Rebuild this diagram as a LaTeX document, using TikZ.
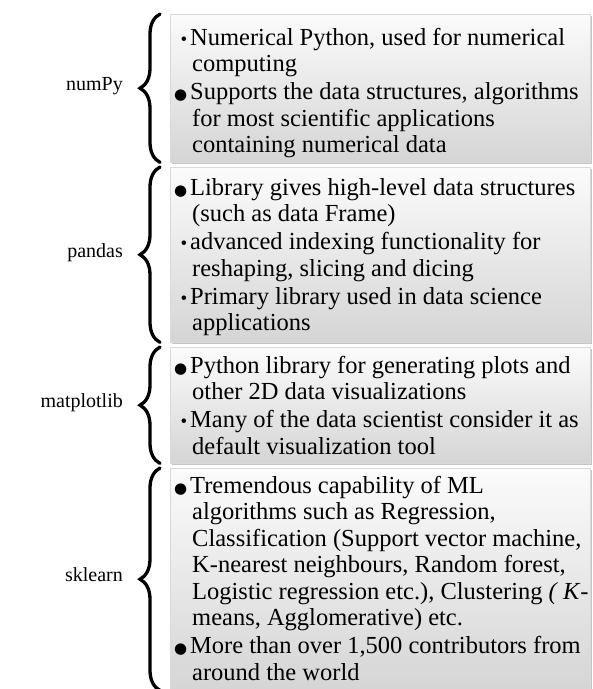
\documentclass[tikz,border=0pt]{standalone}
\usepackage{fontspec}
\setmainfont{Liberation Serif}
\newfontfamily\symfont{DejaVu Sans}
\usetikzlibrary{decorations.pathreplacing,shadows}
\newcommand\bigbul{{\symfont\fontsize{15}{15}\selectfont ●}}
\newcommand\smlbul{{\fontsize{19}{19}\selectfont •}}
\newcommand\bitem[2]{\par\noindent\hangindent=20pt\hangafter=1\makebox[18pt][r]{#1\hspace{3pt}}#2}
\newcommand\boxtext[1]{\vtop{\hsize=430pt\fontsize{24.5}{26.5}\selectfont\parskip=1.5pt\raggedright #1}}
\tikzset{
  panel/.style={draw=gray!30, line width=0.4pt, top color=gray!3, bottom color=gray!33,
    anchor=north west, inner sep=0pt, minimum width=420pt,
    drop shadow={shadow xshift=2pt, shadow yshift=-2pt, opacity=0.45}},
  txt/.style={anchor=base west, inner sep=0pt},
  lab/.style={anchor=mid east, inner sep=0pt, font=\fontsize{20}{23}\selectfont},
  curly/.style={decorate, decoration={brace, amplitude=20pt, aspect=0.5}, line width=3.3pt, line cap=round}
}
\begin{document}
\begin{tikzpicture}[x=1pt,y=-1pt]
\useasboundingbox (0,0) rectangle (593,689);
\clip (0,0) rectangle (593,689);
\fill[white] (0,0) rectangle (593,689);

\node[panel, minimum height=148pt] (box1) at (170,14) {};
\node[panel, minimum height=175pt] (box2) at (170,167) {};
\node[panel, minimum height=116pt] (box3) at (170,347) {};
\node[panel, minimum height=222pt] (box4) at (170,468) {};

\node[txt] (txt1) at (172,45) {\boxtext{%
\bitem{\smlbul}{Numerical Python, used for numerical\newline computing}
\bitem{\bigbul}{Supports the data structures, algorithms\newline for most scientific applications\newline containing numerical data}}};

\node[txt] (txt2) at (172,195) {\boxtext{%
\bitem{\bigbul}{Library gives high-level data structures\newline (such as data Frame)}
\bitem{\smlbul}{advanced indexing functionality for\newline reshaping, slicing and dicing}
\bitem{\smlbul}{Primary library used in data science\newline applications}}};

\node[txt] (txt3) at (172,373) {\boxtext{%
\bitem{\bigbul}{Python library for generating plots and\newline other 2D data visualizations}
\bitem{\smlbul}{Many of the data scientist consider it as\newline default visualization tool}}};

\node[txt] (txt4) at (172,493) {\boxtext{%
\bitem{\bigbul}{Tremendous capability of ML\newline algorithms such as Regression,\newline Classification (Support vector machine,\newline K-nearest neighbours, Random forest,\newline Logistic regression etc.), Clustering \textit{( K}-\newline means, Agglomerative) etc.}
\bitem{\bigbul}{More than over 1,500 contributors from\newline around the world}}};

\draw[curly] ([xshift=-10pt]box1.south west) -- ([xshift=-10pt]box1.north west);
\draw[curly] ([xshift=-10pt]box2.south west) -- ([xshift=-10pt]box2.north west);
\draw[curly] ([xshift=-10pt]box3.south west) -- ([xshift=-10pt]box3.north west);
\draw[curly] ([xshift=-10pt]box4.south west) -- ([xshift=-10pt]box4.north west);

\node[lab] (lab1) at ([xshift=-47pt]box1.west) {numPy};
\node[lab] (lab2) at ([xshift=-47pt]box2.west) {pandas};
\node[lab] (lab3) at ([xshift=-47pt]box3.west) {matplotlib};
\node[lab] (lab4) at ([xshift=-47pt]box4.west) {sklearn};
\end{tikzpicture}
\end{document}
